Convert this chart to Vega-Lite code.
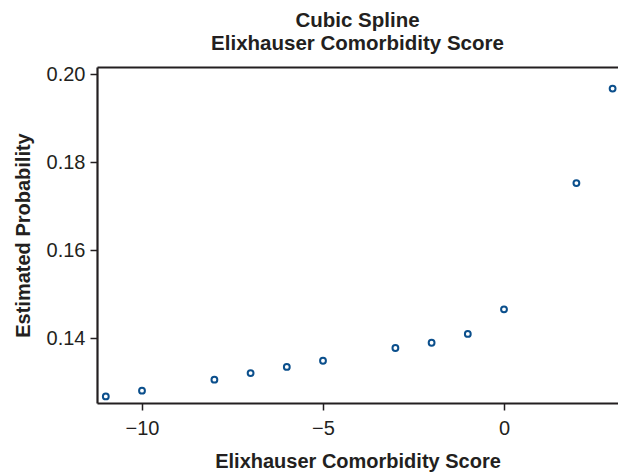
{
  "$schema": "https://vega.github.io/schema/vega-lite/v6.json",
  "width": 521,
  "height": 336,
  "autosize": {"type": "none"},
  "padding": {"left": 97, "top": 67, "right": 0, "bottom": 72},
  "background": "white",
  "title": {
    "text": ["Cubic Spline", "Elixhauser Comorbidity Score"],
    "anchor": "middle",
    "font": "Liberation Sans",
    "fontSize": 20.5,
    "fontWeight": "bold",
    "color": "#231f20",
    "lineHeight": 23,
    "offset": 10
  },
  "config": {
    "view": {"stroke": null},
    "axis": {
      "grid": false,
      "domainColor": "#231f20",
      "domainWidth": 2.2,
      "tickColor": "#231f20",
      "tickWidth": 1.5,
      "tickSize": 7,
      "labelColor": "#231f20",
      "labelFont": "Liberation Sans",
      "labelFontSize": 20,
      "titleColor": "#231f20",
      "titleFont": "Liberation Sans",
      "titleFontSize": 20,
      "titleFontWeight": "bold"
    }
  },
  "data": {
    "values": [
      {"score": -11, "prob": 0.1268},
      {"score": -10, "prob": 0.1281},
      {"score": -8, "prob": 0.1306},
      {"score": -7, "prob": 0.1321},
      {"score": -6, "prob": 0.1335},
      {"score": -5, "prob": 0.1349},
      {"score": -3, "prob": 0.1378},
      {"score": -2, "prob": 0.1390},
      {"score": -1, "prob": 0.1410},
      {"score": 0, "prob": 0.1466},
      {"score": 2, "prob": 0.1753},
      {"score": 3, "prob": 0.1968}
    ]
  },
  "layer": [
    {
      "mark": {"type": "point", "shape": "circle", "filled": false, "stroke": "#0b4f8c", "strokeWidth": 2, "size": 34, "opacity": 1},
      "encoding": {
        "x": {
          "field": "score", "type": "quantitative",
          "scale": {"domain": [-11.243, 3.149], "nice": false, "zero": false},
          "axis": {"orient": "bottom", "values": [-10, -5, 0], "title": "Elixhauser Comorbidity Score", "labelPadding": 8, "titlePadding": 13}
        },
        "y": {
          "field": "prob", "type": "quantitative",
          "scale": {"domain": [0.1253, 0.2017], "nice": false, "zero": false},
          "axis": {"values": [0.14, 0.16, 0.18, 0.2], "format": ".2f", "title": "Estimated Probability", "labelPadding": 5, "titlePadding": 13}
        }
      }
    },
    {
      "mark": {"type": "point", "opacity": 0},
      "encoding": {
        "x": {
          "field": "score", "type": "quantitative",
          "scale": {"domain": [-11.243, 3.149], "nice": false, "zero": false},
          "axis": {"orient": "top", "labels": false, "ticks": false, "title": null, "domain": true}
        },
        "y": {"field": "prob", "type": "quantitative"}
      }
    }
  ],
  "resolve": {"axis": {"x": "independent"}}
}
